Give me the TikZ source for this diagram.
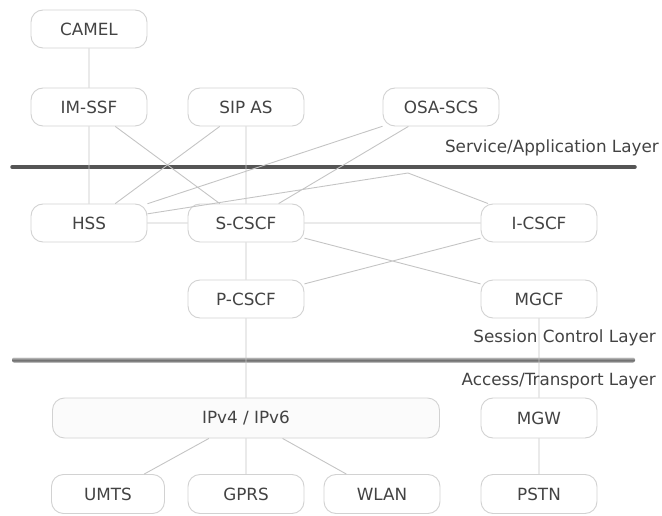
\documentclass[tikz,border=0pt]{standalone}
\usepackage{fontspec}
\setmainfont{DejaVu Sans}
\usetikzlibrary{positioning}

\definecolor{boxline}{HTML}{D2D2D2}
\definecolor{wire}{HTML}{C4C4C4}
\definecolor{txt}{HTML}{434343}
\definecolor{bar}{HTML}{555555}

\begin{document}
\begin{tikzpicture}[x=1pt, y=-1pt,
    box/.style={draw=boxline, line width=0.9pt, fill=white, rounded corners=12pt,
      minimum width=116pt, minimum height=38pt, inner sep=0pt, text=txt,
      font=\fontsize{16.8}{19}\selectfont},
    link/.style={draw=wire, line width=0.9pt},
    layer/.style={anchor=east, inner sep=0pt, text=txt, font=\fontsize{16.8}{19}\selectfont}]
    \useasboundingbox (0,0) rectangle (662,516);

    % layer separators
    \draw[bar, line width=3.5pt, line cap=round] (12,167) -- (635,167);
    \shade[top color=black!25, bottom color=black!40, middle color=black!55, rounded corners=2pt]
        (12,357.5) rectangle (635,362.5);

    % service layer
    \node[box] (camel) at (89,29) {CAMEL};
    \node[box] (imssf) at (89,107) {IM-SSF};
    \node[box] (sipas) at (246,107) {SIP AS};
    \node[box] (osascs) at (441,107) {OSA-SCS};

    % session control layer
    \node[box] (hss) at (89,223) {HSS};
    \node[box] (scscf) at (246,223) {S-CSCF};
    \node[box] (icscf) at (539,223) {I-CSCF};
    \node[box] (pcscf) at (246,299) {P-CSCF};
    \node[box] (mgcf) at (539,299) {MGCF};

    % access/transport layer
    \node[box, fill=gray!3, minimum width=387pt, minimum height=40pt] (ip) at (246,418) {IPv4 / IPv6};
    \node[box, minimum height=40pt] (mgw) at (539,418) {MGW};
    \node[box, minimum width=113pt, minimum height=39pt] (umts) at (108,494) {UMTS};
    \node[box, minimum height=39pt] (gprs) at (246,494) {GPRS};
    \node[box, minimum height=39pt] (wlan) at (382,494) {WLAN};
    \node[box, minimum height=39pt] (pstn) at (539,494) {PSTN};

    \coordinate (kink) at (408,173);

    \draw[link]
        (camel) -- (imssf) -- (hss)
        (imssf) -- (scscf)
        (sipas) -- (hss)
        (sipas) -- (scscf)
        (osascs) -- (hss)
        (osascs) -- (scscf)
        (hss) -- (kink) -- (icscf)
        (hss) -- (scscf) -- (icscf)
        (scscf) -- (mgcf)
        (icscf) -- (pcscf)
        (scscf) -- (pcscf) -- (ip)
        (ip) -- (umts)
        (ip) -- (gprs)
        (ip) -- (wlan)
        (mgcf) -- (mgw) -- (pstn);

    \node[layer] (svc) at (659,148) {Service/Application Layer};
    \node[layer] (ses) at (656,338) {Session Control Layer};
    \node[layer] (acc) at (656,381) {Access/Transport Layer};
\end{tikzpicture}
\end{document}
